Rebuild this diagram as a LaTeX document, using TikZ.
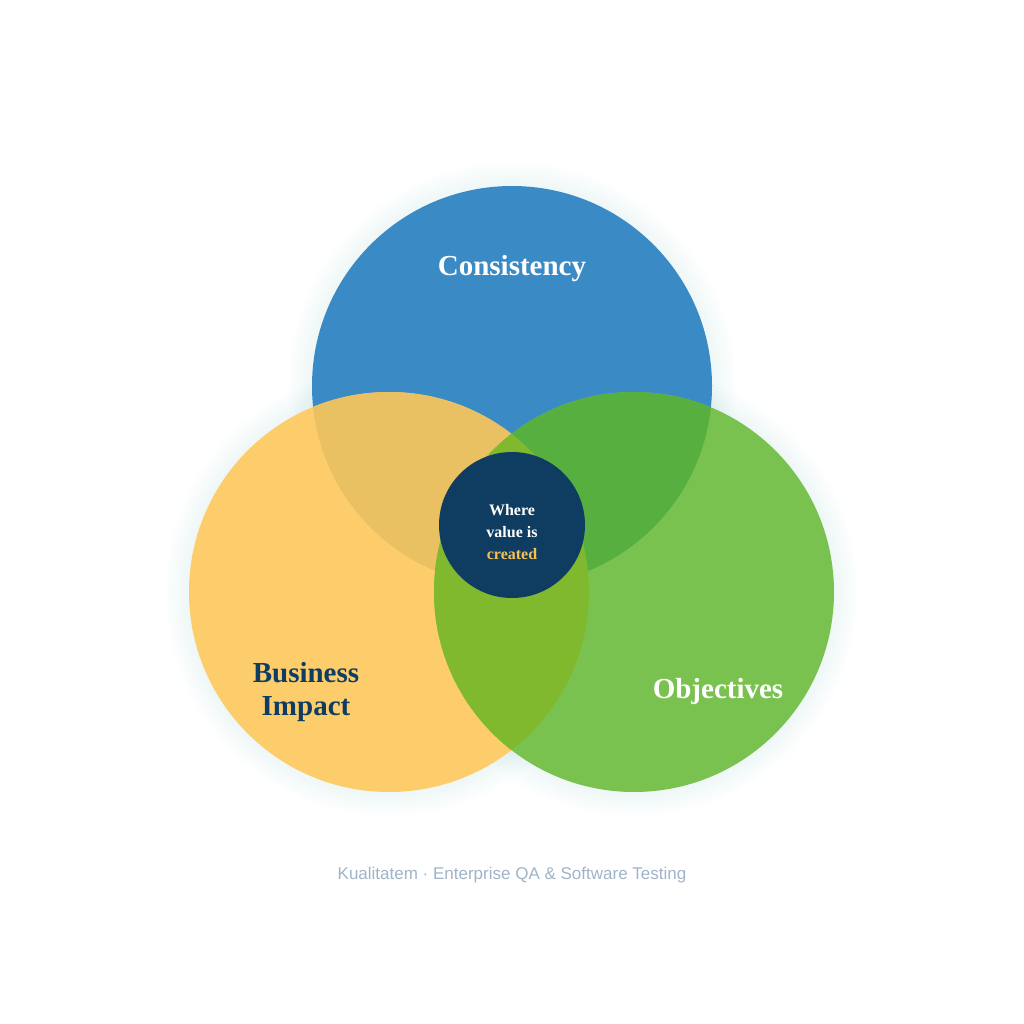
\documentclass[tikz,border=0pt]{standalone}
\usepackage{fontspec}
\setmainfont{Liberation Serif}
\setsansfont{Liberation Sans}
\usepackage{tikz}

\definecolor{cblue}{RGB}{58,138,198}
\definecolor{cyellow}{RGB}{253,204,107}
\definecolor{cgreen}{RGB}{122,194,80}
\definecolor{cblueyellow}{RGB}{233,192,98}
\definecolor{cbluegreen}{RGB}{87,175,64}
\definecolor{cyellowgreen}{RGB}{128,185,46}
\definecolor{cnavy}{RGB}{15,61,98}
\definecolor{cgold}{RGB}{246,192,82}
\definecolor{cfoot}{RGB}{160,180,200}

\begin{document}
\begin{tikzpicture}[x=1pt,y=-1pt]
  \tikzstyle{petal}=[circle, minimum size=400pt, inner sep=0pt]
  \tikzstyle{title}=[font=\bfseries\fontsize{29}{33}\selectfont, align=center]
  \useasboundingbox[fill=white] (0,0) rectangle (1024,1024);
  % soft glow under the circles
  \foreach \c in {(512,386),(389,592),(634,592)}
    \foreach \d in {3,6,...,24}
      \fill[cblue, opacity=0.008] \c circle (200+\d);
  \node[petal, fill=cblue] (C_blue) at (512,386) {};
  \node[petal, fill=cyellow] (C_yellow) at (389,592) {};
  \node[petal, fill=cgreen] (C_green) at (634,592) {};
  % overlaps
  \begin{scope}
    \clip (C_blue.center) circle (200);
    \fill[cblueyellow] (C_yellow.center) circle (200);
  \end{scope}
  \begin{scope}
    \clip (C_blue.center) circle (200);
    \fill[cbluegreen] (C_green.center) circle (200);
  \end{scope}
  \begin{scope}
    \clip (C_yellow.center) circle (200);
    \fill[cyellowgreen] (C_green.center) circle (200);
  \end{scope}
  \node[circle, fill=cnavy, minimum size=146pt, inner sep=0pt,
        font=\bfseries\fontsize{16}{22}\selectfont, text=white, align=center]
    (C_core) at (512,525) {};
  \node[font=\bfseries\fontsize{16}{22}\selectfont, text=white, align=center]
    (T_core) at (512,532) {Where\\value is\\\textcolor{cgold}{created}};
  \node[title, text=white] (T_cons) at (512,269) {Consistency};
  \node[title, text=cnavy] (T_bus) at (306,692) {Business\\Impact};
  \node[title, text=white] (T_obj) at (718,692) {Objectives};
  \node[font=\sffamily\fontsize{17}{20}\selectfont, text=cfoot] (T_foot) at (512,875)
    {Kualitatem · Enterprise QA \& Software Testing};
\end{tikzpicture}
\end{document}
